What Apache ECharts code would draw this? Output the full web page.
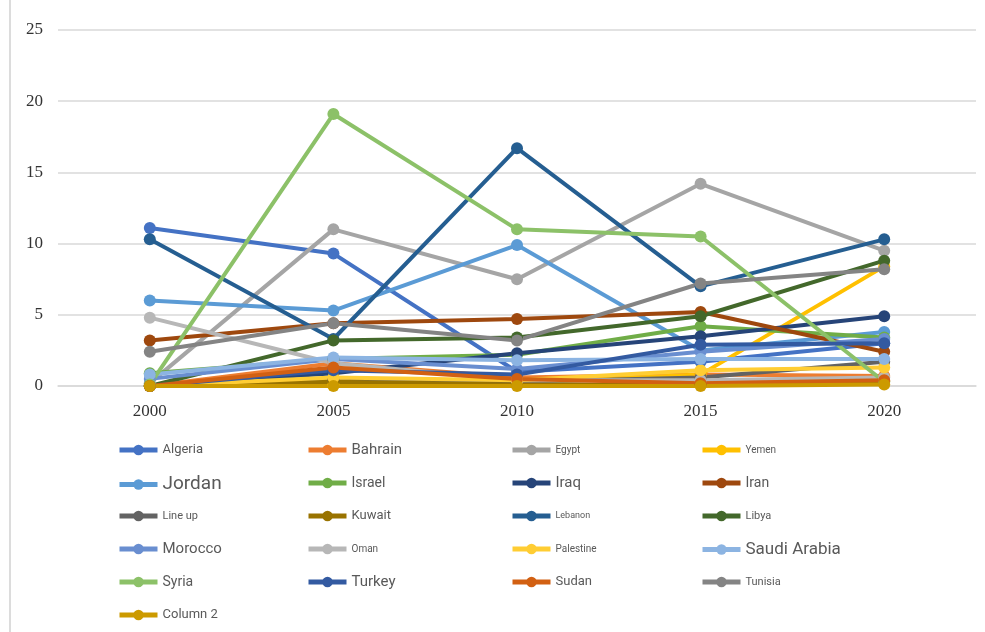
<!DOCTYPE html>
<html>
<head>
<meta charset="utf-8">
<script src="https://cdn.jsdelivr.net/npm/echarts@6/dist/echarts.min.js"></script>
<style>
  html, body { margin: 0; padding: 0; background: #ffffff; }
  #chart { width: 985px; height: 632px; }
</style>
</head>
<body>
<div id="chart"></div>
<script>
// Years on the category axis
const years = ['2000', '2005', '2010', '2015', '2020'];
const yTicks = [0, 5, 10, 15, 20, 25];

// One array per country, values per year
const algeria     = [11.1, 9.3, 1.0, 1.7, 3.0];
const bahrain     = [0.0, 1.6, 0.6, 0.8, 0.7];
const egypt       = [0.2, 11.0, 7.5, 14.2, 9.5];
const yemen       = [0.0, 0.1, 0.2, 0.8, 8.4];
const jordan      = [6.0, 5.3, 9.9, 2.5, 3.8];
const israel      = [0.9, 1.9, 2.2, 4.2, 3.4];
const iraq        = [0.0, 0.9, 2.3, 3.5, 4.9];
const iran        = [3.2, 4.4, 4.7, 5.2, 2.4];
const lineUp      = [0.0, 0.4, 0.3, 0.6, 1.7];
const kuwait      = [0.0, 0.3, 0.1, 0.1, 0.3];
const lebanon     = [10.3, 3.3, 16.7, 7.0, 10.3];
const libya       = [0.0, 3.2, 3.4, 4.9, 8.8];
const morocco     = [0.5, 1.9, 1.2, 2.4, 3.3];
const oman        = [4.8, 1.6, 0.4, 0.4, 0.6];
const palestine   = [0.0, 0.6, 0.4, 1.1, 1.3];
const saudiArabia = [0.8, 2.0, 1.8, 1.9, 1.9];
const syria       = [0.1, 19.1, 11.0, 10.5, 0.3];
const turkey      = [0.0, 1.1, 0.8, 2.9, 3.0];
const sudan       = [0.0, 1.3, 0.5, 0.2, 0.4];
const tunisia     = [2.4, 4.4, 3.2, 7.2, 8.2];
const column2     = [0.0, 0.0, 0.0, 0.0, 0.1];

const seriesDefs = [
  { name: 'Algeria',      data: algeria,     color: '#4472C4', fs: 13 },
  { name: 'Bahrain',      data: bahrain,     color: '#ED7D31', fs: 15 },
  { name: 'Egypt',        data: egypt,       color: '#A5A5A5', fs: 10 },
  { name: 'Yemen',        data: yemen,       color: '#FFC000', fs: 10 },
  { name: 'Jordan',       data: jordan,      color: '#5B9BD5', fs: 19 },
  { name: 'Israel',       data: israel,      color: '#70AD47', fs: 14 },
  { name: 'Iraq',         data: iraq,        color: '#264478', fs: 15 },
  { name: 'Iran',         data: iran,        color: '#9E480E', fs: 14 },
  { name: 'Line up',      data: lineUp,      color: '#636363', fs: 11 },
  { name: 'Kuwait',       data: kuwait,      color: '#997300', fs: 13 },
  { name: 'Lebanon',      data: lebanon,     color: '#255E91', fs: 9 },
  { name: 'Libya',        data: libya,       color: '#43682B', fs: 11 },
  { name: 'Morocco',      data: morocco,     color: '#698ED0', fs: 15 },
  { name: 'Oman',         data: oman,        color: '#B7B7B7', fs: 10 },
  { name: 'Palestine',    data: palestine,   color: '#FFCD33', fs: 10 },
  { name: 'Saudi Arabia', data: saudiArabia, color: '#8CB4E2', fs: 17 },
  { name: 'Syria',        data: syria,       color: '#8CC168', fs: 14 },
  { name: 'Turkey',       data: turkey,      color: '#335AA1', fs: 15 },
  { name: 'Sudan',        data: sudan,       color: '#D26012', fs: 13 },
  { name: 'Tunisia',      data: tunisia,     color: '#848484', fs: 11 },
  { name: 'Column 2',     data: column2,     color: '#CC9A00', fs: 13 }
];

const legendCols = [117, 306, 510, 700];
const legendRows = [450, 483, 516, 549, 582, 615];

const chart = echarts.init(document.getElementById('chart'), null, { renderer: 'canvas' });

const legends = seriesDefs.map(function (s, i) {
  const col = i % 4, row = Math.floor(i / 4);
  return {
    data: [s.name],
    left: legendCols[col],
    top: legendRows[row] - 8,
    padding: 0,
    itemWidth: 38,
    itemHeight: 13,
    itemGap: 6,
    selectedMode: false,
    lineStyle: { width: 5 },
    textStyle: {
      fontFamily: 'Roboto, "Liberation Sans", sans-serif',
      fontSize: s.fs,
      color: '#595959',
      lineHeight: 16
    }
  };
});

const series = seriesDefs.map(function (s) {
  return {
    name: s.name,
    type: 'line',
    data: s.data,
    symbol: 'circle',
    symbolSize: 12,
    color: s.color,
    lineStyle: { width: 4, color: s.color },
    itemStyle: { color: s.color },
    emphasis: { disabled: true }
  };
});

chart.setOption({
  animation: false,
  backgroundColor: '#ffffff',
  legend: legends,
  grid: { left: 58, right: 9, top: 30, bottom: 246, containLabel: false },
  xAxis: {
    type: 'category',
    data: years,
    boundaryGap: true,
    axisLine: { show: true, lineStyle: { color: '#d9d9d9', width: 1.5 } },
    axisTick: { show: false },
    axisLabel: {
      margin: 17,
      fontFamily: '"Liberation Serif", "DejaVu Serif", serif',
      fontSize: 17,
      color: '#333333'
    }
  },
  yAxis: {
    type: 'value',
    min: yTicks[0],
    max: yTicks[yTicks.length - 1],
    interval: 5,
    axisLine: { show: false },
    axisTick: { show: false },
    splitLine: { lineStyle: { color: '#d9d9d9', width: 1.5 } },
    axisLabel: {
      margin: 15,
      fontFamily: '"Liberation Serif", "DejaVu Serif", serif',
      fontSize: 17,
      color: '#333333'
    }
  },
  graphic: [{
    type: 'line',
    shape: { x1: 10, y1: 0, x2: 10, y2: 632 },
    style: { stroke: '#dcdcdc', lineWidth: 2 },
    silent: true
  }],
  series: series
});
</script>
</body>
</html>
